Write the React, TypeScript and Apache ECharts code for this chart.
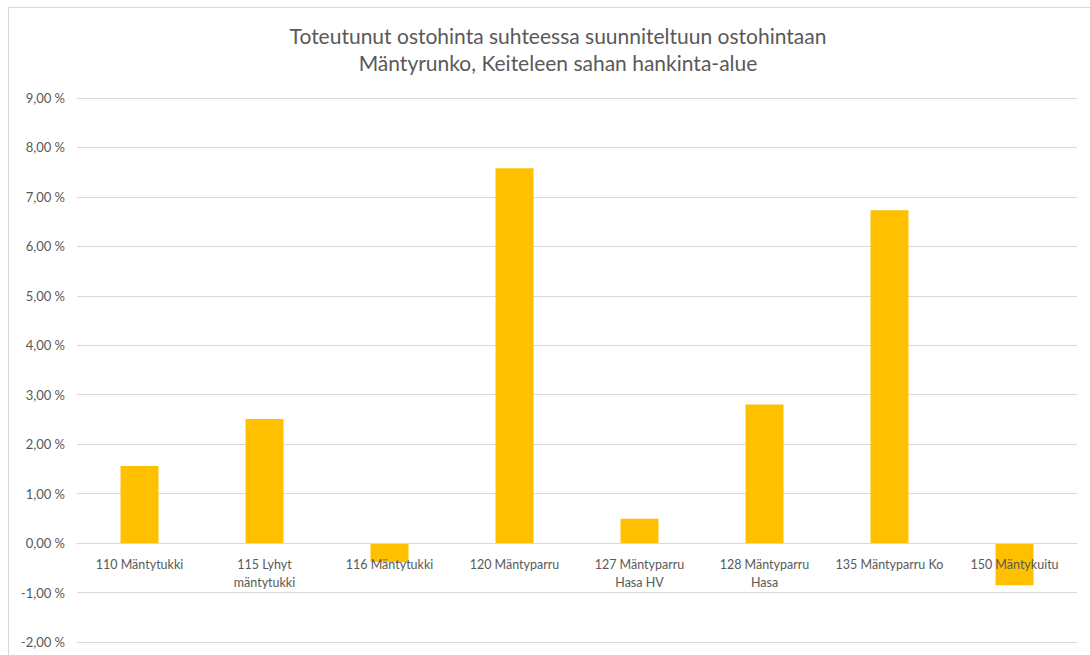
import React, { useEffect, useRef } from "react";
import * as echarts from "echarts";

const categories = [
  "110 Mäntytukki",
  "115 Lyhyt\nmäntytukki",
  "116 Mäntytukki",
  "120 Mäntyparru",
  "127 Mäntyparru\nHasa HV",
  "128 Mäntyparru\nHasa",
  "135 Mäntyparru Ko",
  "150 Mäntykuitu",
];

// Percent deviation of realised purchase price from planned price
const deviationPct = [1.56, 2.51, -0.38, 7.58, 0.49, 2.8, 6.73, -0.85];

const titleLines = [
  "Toteutunut ostohinta suhteessa suunniteltuun ostohintaan",
  "Mäntyrunko, Keiteleen sahan hankinta-alue",
];

const Y_MIN = -2;
const Y_MAX = 9;

const FONT = "Lato, 'Liberation Sans', Arial, sans-serif";
const TEXT_COLOR = "#595959";
const GRID_COLOR = "#d9d9d9";

const GRID_TOP = 98;
const GRID_BOTTOM = 13;
const CHART_H = 655;

export default function App() {
  const ref = useRef<HTMLDivElement>(null);

  useEffect(() => {
    if (!ref.current) return;
    const chart = echarts.init(ref.current, null, { renderer: "svg" });
    const plotH = CHART_H - GRID_TOP - GRID_BOTTOM;
    // lift the category axis from the bottom edge up to the zero line
    const zeroOffset = -((0 - Y_MIN) / (Y_MAX - Y_MIN)) * plotH;
    chart.setOption({
      animation: false,
      backgroundColor: "#ffffff",
      title: {
        text: titleLines.join("\n"),
        left: 553,
        textAlign: "center",
        top: 17,
        textStyle: {
          fontFamily: FONT,
          fontSize: 21,
          fontWeight: "normal",
          color: TEXT_COLOR,
          lineHeight: 27,
        },
      },
      graphic: [
        {
          type: "rect",
          shape: { x: 8.5, y: 7.5, width: 1200, height: 800 },
          style: { fill: "none", stroke: GRID_COLOR, lineWidth: 1 },
          silent: true,
        },
      ],
      grid: {
        left: 77,
        right: 13,
        top: GRID_TOP,
        bottom: GRID_BOTTOM,
        containLabel: false,
        outerBoundsMode: "none",
      },
      xAxis: {
        type: "category",
        data: categories,
        z: 5,
        offset: zeroOffset,
        axisLine: { onZero: false, lineStyle: { color: GRID_COLOR, width: 1 } },
        axisTick: { show: false },
        axisLabel: {
          interval: 0,
          margin: 12,
          fontFamily: FONT,
          fontSize: 12.5,
          lineHeight: 18,
          color: TEXT_COLOR,
        },
      },
      yAxis: {
        type: "value",
        min: Y_MIN,
        max: Y_MAX,
        interval: 1,
        axisLine: { show: false },
        axisTick: { show: false },
        splitLine: { lineStyle: { color: GRID_COLOR, width: 1 } },
        axisLabel: {
          margin: 12,
          fontFamily: FONT,
          fontSize: 13,
          color: TEXT_COLOR,
          formatter: (v: number) => v.toFixed(2).replace(".", ",") + " %",
        },
      },
      series: [
        {
          type: "bar",
          data: deviationPct,
          barWidth: 38,
          itemStyle: { color: "#FFC000" },
        },
      ],
    });
    return () => chart.dispose();
  }, []);

  return (
    <div
      ref={ref}
      style={{ position: "fixed", left: 0, top: 0, width: 1090, height: 655 }}
    />
  );
}
